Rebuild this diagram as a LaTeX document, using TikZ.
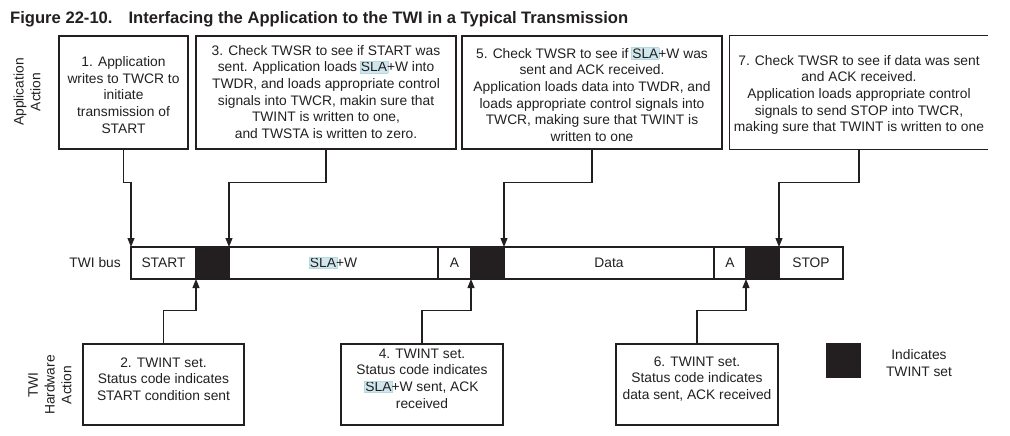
\documentclass[tikz,border=0pt]{standalone}
\usepackage{fontspec}
\setmainfont{Liberation Sans}
\usetikzlibrary{arrows.meta}
\definecolor{ink}{HTML}{231F20}
\definecolor{slafill}{HTML}{CFE7EC}
\definecolor{slaline}{HTML}{B4DAE0}
\newcommand\slahl{\hspace{-1pt}{\fboxsep=0.5pt\fboxrule=0.5pt\fcolorbox{slaline}{slafill}{SLA}}\hspace{-1pt}}
\begin{document}
\begin{tikzpicture}[x=1pt,y=-1pt,
 every node/.style={font=\fontsize{13.8}{16.7}\selectfont, text=ink},
 abox/.style={draw=ink, line width=1.1pt, inner sep=0pt},
 txt/.style={align=center, inner sep=0pt},
 seg/.style={draw=ink, line width=1.1pt, minimum height=32pt, inner sep=0pt, outer sep=0pt, anchor=west},
 blk/.style={seg, fill=ink},
 arr/.style={draw=ink, line width=1.1pt, -{Triangle[length=9pt,width=7pt]}},
 link/.style={draw=ink, line width=1.1pt}]
\useasboundingbox (0,0) rectangle (1010,436);
% title
\node[anchor=base west, inner sep=0pt, font=\fontsize{16.6}{20}\selectfont\bfseries] (title) at (10,24)
 {Figure 22-10.\hspace{16pt}Interfacing the Application to the TWI in a Typical Transmission};
% side labels
\node[txt, rotate=90] (appl) at (27,92) {Application\\Action};
\node[txt, rotate=90] (hw) at (50,385) {TWI\\Hardware\\Action};
\node[anchor=east, inner sep=0pt] (busl) at (121,263) {TWI bus};
% top boxes
\node[abox, minimum width=129pt, minimum height=113pt] (b1) at (123.5,92.5) {};
\node[abox, minimum width=260pt, minimum height=113pt] (b3) at (326,92.5) {};
\node[abox, minimum width=260pt, minimum height=113pt] (b5) at (592,92.5) {};
\node[inner sep=0pt, minimum width=258pt, minimum height=113pt] (b7) at (859,92.5) {};
\draw[link] (b7.north east) -- (b7.north west) -- (b7.south west) -- (b7.south east);
\node[txt] (t1) at (123.5,95) {1. Application\\writes to TWCR to\\initiate\\transmission of\\START};
\node[txt] (t3) at (326,92) {3. Check TWSR to see if START was\\sent. Application loads \slahl+W into\\TWDR, and loads appropriate control\\signals into TWCR, makin sure that\\TWINT is written to one,\\and TWSTA is written to zero.};
\node[txt] (t5) at (592,94.5) {5. Check TWSR to see if \slahl+W was\\sent and ACK received.\\Application loads data into TWDR, and\\loads appropriate control signals into\\TWCR, making sure that TWINT is\\written to one};
\node[txt] (t7) at (859,95) {7. Check TWSR to see if data was sent\\and ACK received.\\Application loads appropriate control\\signals to send STOP into TWCR,\\making sure that TWINT is written to one};
% bus
\node[seg, minimum width=65pt] (start) at (131,263) {START};
\node[blk, minimum width=33pt] (k1) at (start.east) {};
\node[seg, minimum width=209pt] (slaw) at (k1.east) {\slahl+W};
\node[seg, minimum width=33pt] (a1) at (slaw.east) {A};
\node[blk, minimum width=33pt] (k2) at (a1.east) {};
\node[seg, minimum width=210pt] (data) at (k2.east) {Data};
\node[seg, minimum width=32pt] (a2) at (data.east) {A};
\node[blk, minimum width=33pt] (k3) at (a2.east) {};
\node[seg, minimum width=64pt] (stop) at (k3.east) {STOP};
% bottom boxes
\node[abox, minimum width=161pt, minimum height=81pt] (b2) at (163.5,384.5) {};
\node[abox, minimum width=162pt, minimum height=81pt] (b4) at (422,384.5) {};
\node[abox, minimum width=162pt, minimum height=81pt] (b6) at (697,384.5) {};
\node[txt] (t2) at (163.5,379) {2. TWINT set.\\Status code indicates\\START condition sent};
\node[txt] (t4) at (422,378.5) {4. TWINT set.\\Status code indicates\\\slahl+W sent, ACK\\received};
\node[txt] (t6) at (697,379) {6. TWINT set.\\Status code indicates\\data sent, ACK received};
% legend
\node[blk, anchor=center, minimum width=33pt, minimum height=33pt] (leg) at (843.5,360.5) {};
\node[txt] (legt) at (919,363) {Indicates\\TWINT set};
% connectors
\draw[arr] (b1.south) -- ++(0,33) -| (start.north west);
\draw[arr] (b3.south) -- ++(0,33) -| (k1.north east);
\draw[arr] (b5.south) -- ++(0,33) -| (k2.north east);
\draw[arr] (b7.south) -- ++(0,33) -| (k3.north east);
\draw[arr] (b2.north) -- ++(0,-33) -| (k1.south west);
\draw[arr] (b4.north) -- ++(0,-33) -| (k2.south west);
\draw[arr] (b6.north) -- ++(0,-33) -| (k3.south west);
\end{tikzpicture}
\end{document}
